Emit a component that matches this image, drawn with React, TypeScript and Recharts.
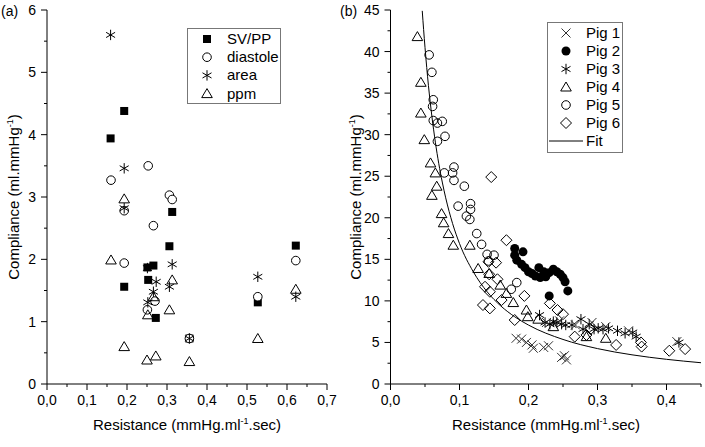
import React from 'react';
import { ScatterChart, Scatter, XAxis, YAxis } from 'recharts';

const FONT = '"Liberation Sans", Arial, Helvetica, sans-serif';

// ---------- Panel (a) data: [resistance, compliance] ----------
const svpp: [number, number][] = [
  [0.159, 3.94], [0.193, 4.38], [0.193, 1.56], [0.251, 1.87], [0.253, 1.67], [0.266, 1.9],
  [0.272, 1.06], [0.306, 2.21], [0.313, 2.76], [0.356, 0.73], [0.527, 1.31], [0.622, 2.22],
];
const diastole: [number, number][] = [
  [0.16, 3.27], [0.193, 2.78], [0.193, 1.94], [0.253, 3.5], [0.266, 2.54], [0.27, 1.33],
  [0.251, 1.19], [0.306, 3.03], [0.313, 2.96], [0.356, 0.73], [0.527, 1.4], [0.622, 1.98],
];
const area: [number, number][] = [
  [0.159, 5.6], [0.193, 3.46], [0.193, 2.82], [0.251, 1.86], [0.252, 1.31], [0.266, 1.48],
  [0.273, 1.64], [0.306, 1.56], [0.313, 1.92], [0.356, 0.73], [0.527, 1.72], [0.622, 1.4],
];
const ppm: [number, number][] = [
  [0.16, 1.99], [0.193, 2.97], [0.193, 0.6], [0.25, 0.385], [0.252, 1.11], [0.266, 1.4],
  [0.272, 0.45], [0.306, 1.19], [0.313, 1.67], [0.356, 0.36], [0.527, 0.73], [0.622, 1.52],
];

// ---------- Panel (b) data ----------
const pig1: [number, number][] = [
  [0.182, 5.5], [0.19, 5.4], [0.197, 5.0], [0.205, 4.7], [0.207, 4.3], [0.222, 4.4], [0.229, 4.6],
  [0.248, 3.2], [0.255, 2.9], [0.252, 3.4], [0.226, 7.4], [0.245, 7.6], [0.268, 7.1], [0.292, 7.4],
  [0.312, 6.9], [0.345, 6.4], [0.415, 5.1],
];
const pig2: [number, number][] = [
  [0.18, 16.3], [0.192, 15.9], [0.18, 15.5], [0.183, 14.9], [0.19, 14.4], [0.195, 14.0], [0.2, 13.5],
  [0.205, 13.3], [0.21, 13.0], [0.215, 14.0], [0.217, 12.8], [0.222, 13.5], [0.225, 12.9], [0.23, 13.4],
  [0.236, 13.8], [0.241, 13.5], [0.246, 13.2], [0.25, 12.8], [0.253, 12.3], [0.257, 11.2], [0.23, 10.6],
];
const pig3: [number, number][] = [
  [0.216, 8.3], [0.224, 7.4], [0.231, 7.2], [0.236, 7.5], [0.241, 7.4], [0.248, 7.2], [0.254, 7.1],
  [0.263, 7.1], [0.276, 7.8], [0.279, 6.6], [0.288, 7.2], [0.295, 6.6], [0.301, 6.7], [0.308, 6.6],
  [0.316, 6.7], [0.329, 6.4], [0.34, 6.1], [0.351, 6.2], [0.356, 5.7], [0.418, 5.0],
];
const pig4: [number, number][] = [
  [0.039, 41.8], [0.044, 36.3], [0.044, 32.6], [0.049, 29.4], [0.058, 26.6], [0.065, 25.4], [0.067, 23.8],
  [0.06, 22.7], [0.074, 20.5], [0.077, 19.4], [0.084, 18.1], [0.091, 16.7], [0.115, 16.7], [0.127, 13.9],
  [0.143, 13.3], [0.159, 11.9], [0.168, 10.9], [0.178, 9.8], [0.197, 8.9], [0.199, 8.1], [0.214, 7.8],
  [0.236, 6.9], [0.284, 5.7], [0.312, 5.5],
];
const pig5: [number, number][] = [
  [0.056, 39.6], [0.06, 37.5], [0.062, 34.2], [0.061, 33.4], [0.062, 31.7], [0.068, 31.4], [0.075, 31.6],
  [0.079, 29.8], [0.068, 29.2], [0.092, 26.1], [0.09, 25.4], [0.078, 25.4], [0.092, 24.5], [0.107, 23.8],
  [0.098, 21.4], [0.116, 21.7], [0.116, 21.0], [0.11, 20.2], [0.115, 19.8], [0.125, 18.1], [0.132, 16.8],
  [0.14, 15.6], [0.15, 15.5], [0.142, 14.8], [0.183, 12.2], [0.175, 11.4],
];
const pig6: [number, number][] = [
  [0.146, 24.9], [0.168, 17.3], [0.153, 14.6], [0.142, 14.7], [0.143, 13.2], [0.137, 11.7], [0.144, 11.1],
  [0.161, 10.1], [0.134, 9.5], [0.144, 9.1], [0.18, 7.7], [0.194, 10.6], [0.231, 9.7], [0.242, 8.9],
  [0.25, 8.4], [0.267, 5.7], [0.284, 5.9], [0.327, 4.7], [0.363, 5.0], [0.364, 4.5], [0.404, 4.0],
  [0.427, 4.2], [0.155, 12.6], [0.29, 6.6],
];
const fit: [number, number][] = [
  [0.046, 44.9], [0.05, 40.5], [0.055, 35.9], [0.06, 32.2], [0.065, 29.1], [0.07, 26.5], [0.075, 24.3],
  [0.08, 22.4], [0.09, 19.3], [0.1, 16.9], [0.12, 13.5], [0.14, 11.1], [0.16, 9.38], [0.18, 8.09],
  [0.2, 7.09], [0.25, 5.36], [0.3, 4.26], [0.35, 3.51], [0.4, 2.97], [0.45, 2.56],
];

// ---------- ticks ----------
const aXTicks = [0, 0.05, 0.1, 0.15, 0.2, 0.25, 0.3, 0.35, 0.4, 0.45, 0.5, 0.55, 0.6, 0.65, 0.7];
const aXMajor = [0, 0.1, 0.2, 0.3, 0.4, 0.5, 0.6, 0.7];
const aYTicks = [0, 0.5, 1, 1.5, 2, 2.5, 3, 3.5, 4, 4.5, 5, 5.5, 6];
const aYMajor = [0, 1, 2, 3, 4, 5, 6];
const bXTicks = [0, 0.05, 0.1, 0.15, 0.2, 0.25, 0.3, 0.35, 0.4, 0.45];
const bXMajor = [0, 0.1, 0.2, 0.3, 0.4];
const bYTicks = [0, 2.5, 5, 7.5, 10, 12.5, 15, 17.5, 20, 22.5, 25, 27.5, 30, 32.5, 35, 37.5, 40, 42.5, 45];
const bYMajor = [0, 5, 10, 15, 20, 25, 30, 35, 40, 45];

const toData = (arr: [number, number][]) => arr.map(([x, y]) => ({ x, y }));
const fmtDec = (v: number) => v.toFixed(1).replace('.', ',');
const fmtInt = (v: number) => String(Math.round(v));

// ---------- marker shapes ----------
const SK = '#000';
const SquareM = ({ cx, cy }: any) => <rect x={cx - 4} y={cy - 4} width={8} height={8} fill={SK} />;
const CircleM = ({ cx, cy }: any) => <circle cx={cx} cy={cy} r={4.3} fill="none" stroke={SK} strokeWidth={1} />;
const CircleWM = ({ cx, cy }: any) => <circle cx={cx} cy={cy} r={4.3} fill="#fff" stroke={SK} strokeWidth={1} />;
const DotM = ({ cx, cy }: any) => <circle cx={cx} cy={cy} r={4.5} fill={SK} />;
const StarM = ({ cx, cy }: any) => {
  const r = 5.2;
  return (
    <g stroke={SK} strokeWidth={1}>
      <line x1={cx} y1={cy - r} x2={cx} y2={cy + r} />
      <line x1={cx - r * 0.866} y1={cy - r * 0.5} x2={cx + r * 0.866} y2={cy + r * 0.5} />
      <line x1={cx - r * 0.866} y1={cy + r * 0.5} x2={cx + r * 0.866} y2={cy - r * 0.5} />
    </g>
  );
};
const TriM = ({ cx, cy }: any) => (
  <polygon points={`${cx},${cy - 5} ${cx + 5.3},${cy + 4} ${cx - 5.3},${cy + 4}`} fill="none" stroke={SK} strokeWidth={1} />
);
const CrossM = ({ cx, cy }: any) => {
  const r = 4.5;
  return (
    <g stroke="#333" strokeWidth={1}>
      <line x1={cx - r} y1={cy - r} x2={cx + r} y2={cy + r} />
      <line x1={cx - r} y1={cy + r} x2={cx + r} y2={cy - r} />
    </g>
  );
};
const DiamondM = ({ cx, cy }: any) => (
  <polygon points={`${cx},${cy - 5.5} ${cx + 5.5},${cy} ${cx},${cy + 5.5} ${cx - 5.5},${cy}`} fill="none" stroke={SK} strokeWidth={1} />
);
const NoM = () => <g />;

// ---------- tick renderer ----------
const makeTick = (orient: 'x' | 'y', majors: number[], fmt: (v: number) => string) => (props: any) => {
  const { x, y, payload } = props;
  const v = payload.value;
  const major = majors.some((m) => Math.abs(m - v) < 1e-9);
  const len = major ? 6 : 3;
  if (orient === 'x') {
    return (
      <g>
        <line x1={x} y1={y} x2={x} y2={y + len} stroke="#000" strokeWidth={1} />
        {major && (
          <text x={x} y={y + 21} textAnchor="middle" fontSize={14} fontFamily={FONT} fill="#000">
            {fmt(v)}
          </text>
        )}
      </g>
    );
  }
  return (
    <g>
      <line x1={x - len} y1={y} x2={x} y2={y} stroke="#000" strokeWidth={1} />
      {major && (
        <text x={x - 11} y={y + 5} textAnchor="end" fontSize={14} fontFamily={FONT} fill="#000">
          {fmt(v)}
        </text>
      )}
    </g>
  );
};

const XTitle = ({ x, y }: { x: number; y: number }) => (
  <text x={x} y={y} textAnchor="middle" fontSize={15} fontFamily={FONT} fill="#000">
    Resistance (mmHg.ml<tspan dy={-6} fontSize={9}>-1</tspan>
    <tspan dy={6}>.sec)</tspan>
  </text>
);
const YTitle = ({ x, y }: { x: number; y: number }) => (
  <text x={x} y={y} transform={`rotate(-90 ${x} ${y})`} textAnchor="middle" fontSize={15} fontFamily={FONT} fill="#000">
    Compliance (ml.mmHg<tspan dy={-6} fontSize={9}>-1</tspan>
    <tspan dy={6}>)</tspan>
  </text>
);

const legendA = [
  { name: 'SV/PP', M: SquareM },
  { name: 'diastole', M: CircleM },
  { name: 'area', M: StarM },
  { name: 'ppm', M: TriM },
];
const legendB = [
  { name: 'Pig 1', M: CrossM },
  { name: 'Pig 2', M: DotM },
  { name: 'Pig 3', M: StarM },
  { name: 'Pig 4', M: TriM },
  { name: 'Pig 5', M: CircleM },
  { name: 'Pig 6', M: DiamondM },
];

const axisLine = { stroke: '#000', strokeWidth: 1 };

export default function App() {
  return (
    <div style={{ position: 'absolute', left: 0, top: 0, width: 705, height: 447, background: '#fff', fontFamily: FONT }}>
      <div style={{ position: 'absolute', left: 0, top: 0 }}>
        <ScatterChart width={340} height={447} margin={{ top: 10, right: 13, bottom: 0, left: 0 }}>
          <XAxis
            type="number"
            dataKey="x"
            domain={[0, 0.7]}
            ticks={aXTicks}
            interval={0}
            allowDataOverflow
            height={63}
            tickLine={false}
            tickSize={0}
            tickMargin={0}
            axisLine={axisLine}
            tick={makeTick('x', aXMajor, fmtDec)}
          />
          <YAxis
            type="number"
            dataKey="y"
            domain={[0, 6]}
            ticks={aYTicks}
            interval={0}
            allowDataOverflow
            width={47}
            tickLine={false}
            tickSize={0}
            tickMargin={0}
            axisLine={axisLine}
            tick={makeTick('y', aYMajor, fmtInt)}
          />
          <Scatter data={toData(svpp)} shape={SquareM} isAnimationActive={false} />
          <Scatter data={toData(diastole)} shape={CircleWM} isAnimationActive={false} />
          <Scatter data={toData(ppm)} shape={TriM} isAnimationActive={false} />
          <Scatter data={toData(area)} shape={StarM} isAnimationActive={false} />
        </ScatterChart>
      </div>
      <div style={{ position: 'absolute', left: 340, top: 0 }}>
        <ScatterChart width={365} height={447} margin={{ top: 10, right: 4, bottom: 0, left: 0 }}>
          <XAxis
            type="number"
            dataKey="x"
            domain={[0, 0.45]}
            ticks={bXTicks}
            interval={0}
            allowDataOverflow
            height={63}
            tickLine={false}
            tickSize={0}
            tickMargin={0}
            axisLine={axisLine}
            tick={makeTick('x', bXMajor, fmtDec)}
          />
          <YAxis
            type="number"
            dataKey="y"
            domain={[0, 45]}
            ticks={bYTicks}
            interval={0}
            allowDataOverflow
            width={50.5}
            tickLine={false}
            tickSize={0}
            tickMargin={0}
            axisLine={axisLine}
            tick={makeTick('y', bYMajor, fmtInt)}
          />
          <Scatter
            data={toData(fit)}
            line={{ stroke: '#000', strokeWidth: 1 }}
            lineJointType="monotoneX"
            shape={NoM}
            isAnimationActive={false}
          />
          <Scatter data={toData(pig4)} shape={TriM} isAnimationActive={false} />
          <Scatter data={toData(pig5)} shape={CircleM} isAnimationActive={false} />
          <Scatter data={toData(pig6)} shape={DiamondM} isAnimationActive={false} />
          <Scatter data={toData(pig3)} shape={StarM} isAnimationActive={false} />
          <Scatter data={toData(pig1)} shape={CrossM} isAnimationActive={false} />
          <Scatter data={toData(pig2)} shape={DotM} isAnimationActive={false} />
        </ScatterChart>
      </div>
      <svg width={705} height={447} style={{ position: 'absolute', left: 0, top: 0, pointerEvents: 'none' }}>
        <text x={1} y={16} fontSize={14} fontFamily={FONT} fill="#000">(a)</text>
        <text x={340} y={16} fontSize={14} fontFamily={FONT} fill="#000">(b)</text>
        <XTitle x={187} y={430} />
        <XTitle x={546} y={430} />
        <YTitle x={19} y={197} />
        <YTitle x={361} y={197} />
        {/* legend (a) */}
        <rect x={187.5} y={28.5} width={93} height={75} fill="#fff" stroke="#777" strokeWidth={1} />
        {legendA.map((e, i) => (
          <g key={e.name}>
            <e.M cx={207} cy={39 + i * 18.2} />
            <text x={227} y={39 + i * 18.2 + 5} fontSize={15} fontFamily={FONT} fill="#000">{e.name}</text>
          </g>
        ))}
        {/* legend (b) */}
        <rect x={547.5} y={22.5} width={75} height={130} fill="#fff" stroke="#777" strokeWidth={1} />
        {legendB.map((e, i) => (
          <g key={e.name}>
            <e.M cx={566} cy={33 + i * 18} />
            <text x={586} y={33 + i * 18 + 5} fontSize={15} fontFamily={FONT} fill="#000">{e.name}</text>
          </g>
        ))}
        <line x1={549} y1={141} x2={583} y2={141} stroke="#000" strokeWidth={1} />
        <text x={586} y={146} fontSize={15} fontFamily={FONT} fill="#000">Fit</text>
      </svg>
    </div>
  );
}
